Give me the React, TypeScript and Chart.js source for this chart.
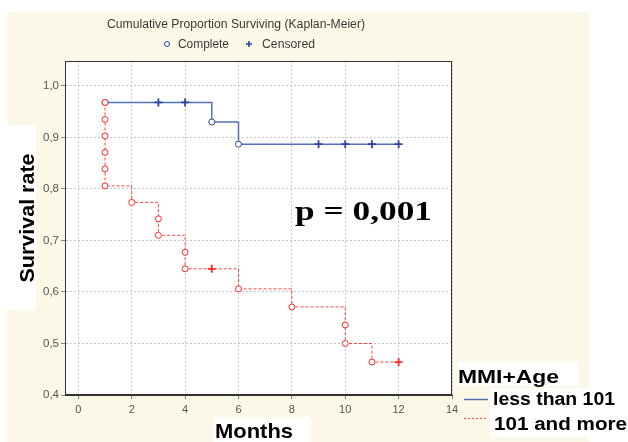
import { useEffect, useRef } from 'react';
import { Chart, registerables } from 'chart.js';

Chart.register(...registerables);

const chartTitle = 'Cumulative Proportion Surviving (Kaplan-Meier)';
const legendLabels = ['Complete', 'Censored'];
const groupTitle = 'MMI+Age';
const groupLabels = ['less than 101', '101 and more'];
const yAxisTitle = 'Survival rate';
const xAxisTitle = 'Months';
const pValueText = 'p = 0,001';

const xTicks = [0, 2, 4, 6, 8, 10, 12, 14];
const yTicks = [0.4, 0.5, 0.6, 0.7, 0.8, 0.9, 1.0];

// group "less than 101"
const blueMonths = [1, 3, 4, 5, 6, 9, 10, 11, 12];
const blueSurvival = [0.968, 0.968, 0.968, 0.93, 0.887, 0.887, 0.887, 0.887, 0.887];
const blueCensored = [false, true, true, false, false, true, true, true, true];

// group "101 and more"
const redMonths = [1, 1, 1, 1, 1, 1, 2, 3, 3, 4, 4, 5, 6, 8, 10, 10, 11, 12];
const redSurvival = [0.968, 0.935, 0.903, 0.871, 0.839, 0.806, 0.774, 0.742, 0.71, 0.677, 0.645, 0.645, 0.606, 0.571, 0.536, 0.5, 0.464, 0.464];
const redCensored = [false, false, false, false, false, false, false, false, false, false, false, true, false, false, false, false, false, true];

const BLUE_LINE = '#5570b8';
const BLUE_MARK = '#2a44a0';
const RED_LINE = 'rgba(255,45,45,0.9)';
const RED_MARK = '#ff2a2a';
const CREAM = '#fbf8e8';
const SANS = '"Liberation Sans", Arial, sans-serif';
const SERIF = '"Liberation Serif", "Times New Roman", serif';

function drawStretched(ctx: CanvasRenderingContext2D, text: string, font: string, x: number, y: number, targetWidth: number, color: string, align: 'left' | 'center' = 'left') {
  ctx.save();
  ctx.font = font;
  ctx.fillStyle = color;
  ctx.textBaseline = 'alphabetic';
  const w = ctx.measureText(text).width;
  const s = targetWidth / w;
  const left = align === 'center' ? x - targetWidth / 2 : x;
  ctx.translate(left, y);
  ctx.scale(s, 1);
  ctx.textAlign = 'left';
  ctx.fillText(text, 0, 0);
  ctx.restore();
}

const decorPlugin = {
  id: 'decor',
  beforeDraw(chart: any) {
    const { ctx, chartArea } = chart;
    ctx.save();
    ctx.fillStyle = '#ffffff';
    ctx.fillRect(0, 0, chart.width, chart.height);
    ctx.fillStyle = CREAM;
    ctx.fillRect(7, 12, 582, 430);
    ctx.fillStyle = '#ffffff';
    ctx.fillRect(chartArea.left, chartArea.top, chartArea.right - chartArea.left, chartArea.bottom - chartArea.top);
    // white label boxes
    ctx.fillRect(7, 125, 29, 185);
    ctx.fillRect(214, 417, 97, 25);
    ctx.fillRect(457, 362, 121, 24);
    ctx.fillRect(490, 388, 138, 49);
    ctx.restore();
  },
  afterDraw(chart: any) {
    const { ctx, chartArea } = chart;
    ctx.save();
    // frame
    ctx.strokeStyle = '#333333';
    ctx.lineWidth = 1;
    ctx.setLineDash([]);
    ctx.strokeRect(chartArea.left + 0.5, chartArea.top + 0.5, chartArea.right - chartArea.left - 1, chartArea.bottom - chartArea.top - 1);

    // title + legend
    drawStretched(ctx, chartTitle, `12px ${SANS}`, 236, 28, 258, '#3a3a3a', 'center');
    ctx.strokeStyle = BLUE_MARK;
    ctx.lineWidth = 1;
    ctx.beginPath();
    ctx.arc(167, 44, 2.5, 0, Math.PI * 2);
    ctx.stroke();
    drawStretched(ctx, legendLabels[0], `12px ${SANS}`, 178, 48, 51, '#3a3a3a');
    ctx.lineWidth = 1.6;
    ctx.beginPath();
    ctx.moveTo(246, 44); ctx.lineTo(252, 44);
    ctx.moveTo(249, 41); ctx.lineTo(249, 47);
    ctx.stroke();
    drawStretched(ctx, legendLabels[1], `12px ${SANS}`, 262, 48, 53, '#3a3a3a');

    // axis titles
    ctx.save();
    ctx.translate(34, 218);
    ctx.rotate(-Math.PI / 2);
    drawStretched(ctx, yAxisTitle, `bold 20px ${SANS}`, 0, 0, 129, '#000', 'center');
    ctx.restore();
    drawStretched(ctx, xAxisTitle, `bold 21px ${SANS}`, 254, 438, 78, '#000', 'center');

    // group legend
    drawStretched(ctx, groupTitle, `bold 18px ${SANS}`, 458, 383, 101, '#000');
    drawStretched(ctx, groupLabels[0], `bold 18px ${SANS}`, 493, 405, 122, '#000');
    drawStretched(ctx, groupLabels[1], `bold 18px ${SANS}`, 494, 430, 133, '#000');
    ctx.strokeStyle = BLUE_LINE;
    ctx.lineWidth = 1.5;
    ctx.beginPath();
    ctx.moveTo(464, 399.5); ctx.lineTo(488, 399.5);
    ctx.stroke();
    ctx.strokeStyle = RED_LINE;
    ctx.lineWidth = 1;
    ctx.setLineDash([2, 2]);
    ctx.beginPath();
    ctx.moveTo(464, 418.5); ctx.lineTo(488, 418.5);
    ctx.stroke();
    ctx.setLineDash([]);

    // p-value
    drawStretched(ctx, pValueText, `bold 27px ${SERIF}`, 295, 220, 137, '#000');
    ctx.restore();
  },
};

export default function App() {
  const canvasRef = useRef<HTMLCanvasElement | null>(null);

  useEffect(() => {
    if (!canvasRef.current) return;
    const toPoints = (xs: number[], ys: number[]) => xs.map((x, i) => ({ x, y: ys[i] }));
    const chart = new Chart(canvasRef.current, {
      type: 'line',
      data: {
        datasets: [
          {
            label: groupLabels[1],
            data: toPoints(redMonths, redSurvival),
            stepped: 'before',
            borderColor: RED_LINE,
            borderWidth: 1,
            borderDash: [3, 2],
            pointStyle: redCensored.map((c) => (c ? 'cross' : 'circle')) as any,
            pointRadius: redCensored.map((c) => (c ? 4 : 3)),
            pointBorderWidth: redCensored.map((c) => (c ? 1.8 : 1)),
            pointBorderColor: RED_MARK,
            pointBackgroundColor: '#ffffff',
            fill: false,
          },
          {
            label: groupLabels[0],
            data: toPoints(blueMonths, blueSurvival),
            stepped: 'before',
            borderColor: BLUE_LINE,
            borderWidth: 1.5,
            pointStyle: blueCensored.map((c) => (c ? 'cross' : 'circle')) as any,
            pointRadius: blueCensored.map((c) => (c ? 4 : 3)),
            pointBorderWidth: blueCensored.map((c) => (c ? 1.8 : 1)),
            pointBorderColor: BLUE_MARK,
            pointBackgroundColor: '#ffffff',
            fill: false,
          },
        ],
      },
      options: {
        responsive: false,
        animation: false,
        layout: { padding: { left: 35, top: 61, right: 176, bottom: 22 } },
        plugins: { legend: { display: false }, tooltip: { enabled: false }, title: { display: false } },
        scales: {
          x: {
            type: 'linear',
            min: -0.5,
            max: 14,
            afterFit: (s: any) => { s.height = 25; },
            afterBuildTicks: (s: any) => { s.ticks = xTicks.map((v) => ({ value: v })); },
            ticks: { color: '#555', font: { family: SANS, size: 11 }, padding: 4, autoSkip: false, maxRotation: 0 },
            grid: { color: '#c6c6c6', lineWidth: 1, tickLength: 4, tickColor: '#888', tickBorderDash: [] },
            border: { display: true, color: '#333', width: 1, dash: [2, 2] },
          },
          y: {
            type: 'linear',
            min: 0.4,
            max: 1.0485,
            afterFit: (s: any) => { s.width = 30; },
            afterBuildTicks: (s: any) => { s.ticks = yTicks.map((v) => ({ value: v })); },
            ticks: {
              color: '#555',
              font: { family: SANS, size: 11.5 },
              padding: 2,
              autoSkip: false,
              callback: (v: any) => Number(v).toFixed(1).replace('.', ','),
            },
            grid: { color: '#c6c6c6', lineWidth: 1, tickLength: 4, tickColor: '#888', tickBorderDash: [] },
            border: { display: true, color: '#333', width: 1, dash: [2, 2] },
          },
        },
      },
      plugins: [decorPlugin],
    });
    return () => chart.destroy();
  }, []);

  return (
    <div style={{ position: 'absolute', left: 0, top: 0, width: 628, height: 442 }}>
      <canvas ref={canvasRef} width={628} height={442} style={{ width: 628, height: 442, display: 'block' }} />
    </div>
  );
}
